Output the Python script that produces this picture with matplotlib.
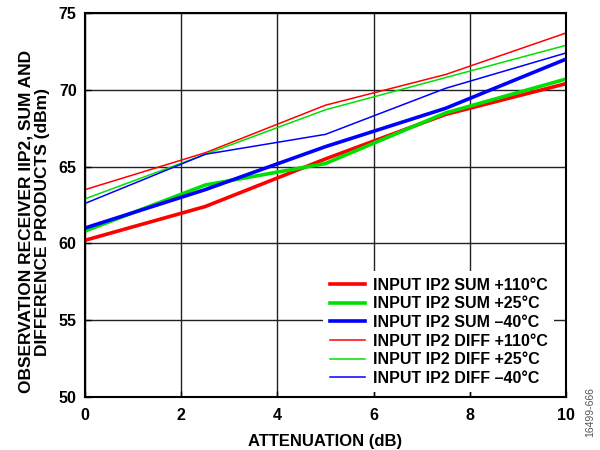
import matplotlib
matplotlib.use("Agg")
import matplotlib.pyplot as plt

plt.rcParams["font.family"] = ["Liberation Sans", "DejaVu Sans"]
plt.rcParams["font.weight"] = "bold"

atten = [0, 2.5, 5, 7.5, 10]
sum_110 = [60.2, 62.4, 65.5, 68.4, 70.4]
sum_25 = [60.8, 63.8, 65.2, 68.5, 70.7]
sum_m40 = [61.0, 63.5, 66.3, 68.8, 72.0]
diff_110 = [63.5, 65.9, 69.0, 71.0, 73.7]
diff_25 = [62.9, 65.8, 68.7, 70.8, 72.9]
diff_m40 = [62.6, 65.8, 67.1, 70.1, 72.4]

labels = ["INPUT IP2 SUM +110°C", "INPUT IP2 SUM +25°C", "INPUT IP2 SUM \u201340°C",
          "INPUT IP2 DIFF +110°C", "INPUT IP2 DIFF +25°C", "INPUT IP2 DIFF \u201340°C"]

RED, GREEN, BLUE = "#ff0000", "#00e000", "#0000ff"

fig = plt.figure(figsize=(6, 4.5), dpi=100)
ax = fig.add_axes([0.1417, 0.118, 0.8016, 0.853])

series = [sum_110, sum_25, sum_m40, diff_110, diff_25, diff_m40]
colors = [RED, GREEN, BLUE, RED, GREEN, BLUE]
widths = [2.6, 2.6, 2.6, 1.1, 1.1, 1.1]
for ys, c, lw, lab in zip(series, colors, widths, labels):
    ax.plot(atten, ys, color=c, lw=lw, label=lab)

ax.set_xlim(0, 10)
ax.set_ylim(50, 75)
ax.set_xticks([0, 2, 4, 6, 8, 10])
ax.set_yticks([50, 55, 60, 65, 70, 75])
ax.grid(True, color="#222222", lw=1.0)
ax.set_axisbelow(True)
for s in ax.spines.values():
    s.set_linewidth(1.5)
ax.tick_params(direction="in", length=4, width=1, labelsize=11.5)
ax.tick_params(axis="x", pad=8)
ax.tick_params(axis="y", pad=6)
for t in ax.get_xticklabels() + ax.get_yticklabels():
    t.set_fontweight("bold")

ax.set_xlabel("ATTENUATION (dB)", fontsize=12, fontweight="bold", labelpad=8)
ax.set_ylabel("OBSERVATION RECEIVER IIP2, SUM AND\nDIFFERENCE PRODUCTS (dBm)",
              fontsize=12.5, fontweight="bold", linespacing=1.12)
ax.yaxis.set_label_coords(-0.073, 0.456)

leg = ax.legend(loc="lower right", frameon=True, fontsize=11.5, handlelength=2.2,
                handletextpad=0.5, labelspacing=0.23, borderaxespad=0.0,
                bbox_to_anchor=(0.975, 0.012))
leg.get_frame().set_edgecolor("none")
leg.get_frame().set_facecolor("white")
leg.get_frame().set_alpha(1)
for t in leg.get_texts():
    t.set_fontweight("bold")

# figure id tag, bottom right
fig.text(0.983, 0.085, "16499-666", rotation=90, fontsize=7.5, color="#555555",
         fontweight="normal", ha="center", va="center")

fig.savefig("out.png", dpi=100)
